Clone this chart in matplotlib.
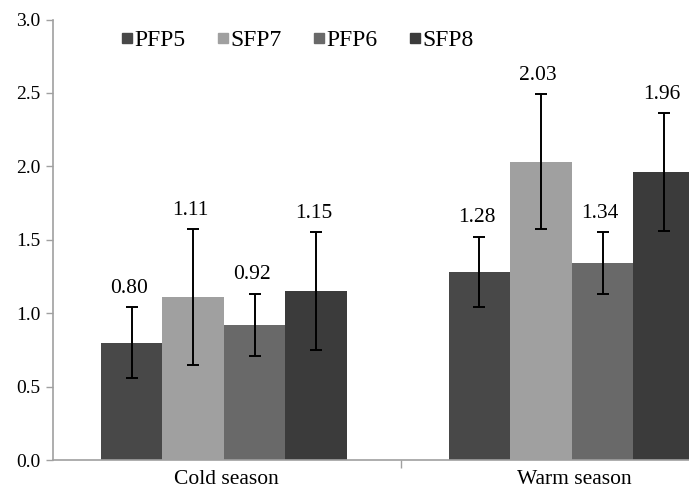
import matplotlib.pyplot as plt
import numpy as np

plt.rcParams['font.family'] = ['Liberation Serif', 'DejaVu Serif']

categories = ['Cold season', 'Warm season']
series = ['PFP5', 'SFP7', 'PFP6', 'SFP8']
values = [
    [0.80, 1.28],
    [1.11, 2.03],
    [0.92, 1.34],
    [1.15, 1.96],
]
errors = [
    [0.24, 0.24],
    [0.46, 0.46],
    [0.21, 0.21],
    [0.40, 0.40],
]
colors = ['#484848', '#a0a0a0', '#696969', '#3b3b3b']

fig = plt.figure(figsize=(6.89, 4.95), dpi=100)
ax = fig.add_axes([0.0765, 0.0707, 1.010, 0.8899])

x = np.arange(len(categories))
width = 0.177
for i, name in enumerate(series):
    pos = x + (i - 1.5) * width - 0.008
    ax.bar(pos, values[i], width, color=colors[i], label=name)
    ax.errorbar(pos, values[i], yerr=errors[i], fmt='none', ecolor='black',
                elinewidth=1.4, capsize=4, capthick=1.4)
    for p, v, e in zip(pos, values[i], errors[i]):
        ax.annotate('{:.2f}'.format(v), (p, v + e), xytext=(-2, 7),
                    textcoords='offset points', ha='center', va='bottom',
                    fontsize=15.5)

ax.set_xlim(-0.5, 1.5)
ax.set_ylim(0, 3.0)
ax.set_yticks(np.arange(0, 3.01, 0.5))
ax.set_yticklabels(['{:.1f}'.format(t) for t in np.arange(0, 3.01, 0.5)], fontsize=14)
ax.set_xticks(x)
ax.set_xticklabels(categories, fontsize=15.5)
ax.tick_params(axis='x', length=0, pad=7)
ax.set_xticks([0.5], minor=True)
ax.tick_params(axis='x', which='minor', length=6, color='#a0a0a0', width=1)
ax.tick_params(axis='y', length=5, color='#a0a0a0', width=1, pad=4)

for s in ['top', 'right']:
    ax.spines[s].set_visible(False)
for s in ['left', 'bottom']:
    ax.spines[s].set_color('#a0a0a0')
    ax.spines[s].set_linewidth(1.2)

handles = [plt.Line2D([], [], marker='s', linestyle='none', color=c,
                      markersize=7.5) for c in colors]
fig.legend(handles, series, loc='center left', bbox_to_anchor=(0.176, 0.919),
           ncol=4, frameon=False, fontsize=17, handletextpad=0.05,
           columnspacing=1.35, handlelength=0.5, borderaxespad=0, borderpad=0)

fig.savefig('out.png', dpi=100)
